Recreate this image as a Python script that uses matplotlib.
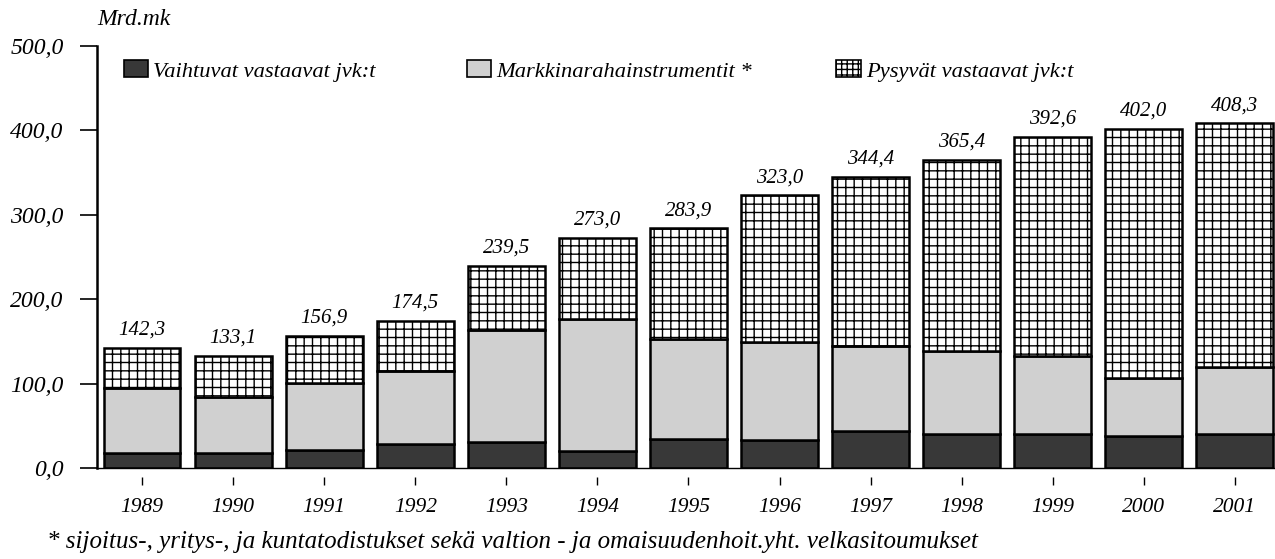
import matplotlib
matplotlib.use("Agg")
import matplotlib.pyplot as plt
import numpy as np
from matplotlib.patches import Patch

# data (Mrd.mk)
years = ['1989', '1990', '1991', '1992', '1993', '1994', '1995',
         '1996', '1997', '1998', '1999', '2000', '2001']
totals = [142.3, 133.1, 156.9, 174.5, 239.5, 273.0, 283.9,
          323.0, 344.4, 365.4, 392.6, 402.0, 408.3]
vaihtuvat = [18.0, 18.0, 21.9, 29.0, 30.9, 19.8, 34.7,
             32.7, 43.3, 40.3, 40.1, 37.4, 40.2]
markkina = [77.3, 66.6, 78.3, 86.0, 132.6, 156.7, 118.1,
            116.8, 100.7, 98.8, 93.1, 68.8, 79.5]
# permanent assets = the rest of the labelled total
pysyvat = [t - a - b for t, a, b in zip(totals, vaihtuvat, markkina)]

y_ticks = [0, 100, 200, 300, 400, 500]

plt.rcParams['font.family'] = ['Liberation Serif', 'DejaVu Serif']
plt.rcParams['font.style'] = 'italic'
plt.rcParams['hatch.linewidth'] = 1.0

fig = plt.figure(figsize=(12.75, 5.59), dpi=100)
ax = fig.add_axes([0.0761, 0.1628, 0.9239, 0.7549])

x = np.arange(len(years))
w = 0.845
edge = dict(edgecolor='black', linewidth=1.8)

ax.bar(x, vaihtuvat, w, color='#383838', **edge)
ax.bar(x, markkina, w, bottom=vaihtuvat, color='#d0d0d0', **edge)
bottom2 = [a + b for a, b in zip(vaihtuvat, markkina)]
ax.bar(x, pysyvat, w, bottom=bottom2, color='white', hatch='++', **edge)

# value labels above bars
for xi, t in zip(x, totals):
    ax.annotate(f"{t:.1f}".replace('.', ','), (xi, t), xytext=(0, 6),
                textcoords='offset points', ha='center', va='bottom',
                fontsize=15, fontstyle='italic')

ax.set_xlim(-0.494, 12.44)
ax.set_ylim(0, 500)
ax.set_yticks(y_ticks)
ax.set_yticklabels([f"{v:.1f}".replace('.', ',') for v in y_ticks],
                   fontsize=17, fontstyle='italic')
ax.tick_params(axis='y', length=12, width=1.2, pad=12)
ax.set_xticks([])

ax.spines['top'].set_visible(False)
ax.spines['right'].set_visible(False)
ax.spines['left'].set_linewidth(1.8)
ax.spines['bottom'].set_linewidth(1.0)

# year ticks sit a little below the baseline
sec = ax.secondary_xaxis(-0.021)
sec.set_xticks(x)
sec.set_xticklabels(years, fontsize=15.5, fontstyle='italic')
sec.tick_params(length=6, width=1.0, pad=9)
sec.spines['bottom'].set_visible(False)

fig.text(0.0761, 0.965, 'Mrd.mk', fontsize=17, fontstyle='italic',
         ha='left', va='center')

# legend: three single-entry legends at fixed spots
entries = [
    (Patch(facecolor='#383838', edgecolor='black', linewidth=1.2), 'Vaihtuvat vastaavat jvk:t', 0.097),
    (Patch(facecolor='#d0d0d0', edgecolor='black', linewidth=1.2), 'Markkinarahainstrumentit *', 0.366),
    (Patch(facecolor='white', edgecolor='black', linewidth=1.2, hatch='+++'), 'Pysyvät vastaavat jvk:t', 0.656),
]
for handle, label, xpos in entries:
    leg = fig.legend([handle], [label], loc='center left',
                     bbox_to_anchor=(xpos, 0.873), frameon=False,
                     prop={'size': 16.2, 'style': 'italic'},
                     handlelength=1.1, handleheight=0.8,
                     handletextpad=0.2, borderpad=0, borderaxespad=0)

fig.text(0.037, 0.03,
         '* sijoitus-, yritys-, ja kuntatodistukset sekä valtion - ja omaisuudenhoit.yht. velkasitoumukset',
         fontsize=18, fontstyle='italic', ha='left', va='center')

fig.savefig('out.png', dpi=100)
